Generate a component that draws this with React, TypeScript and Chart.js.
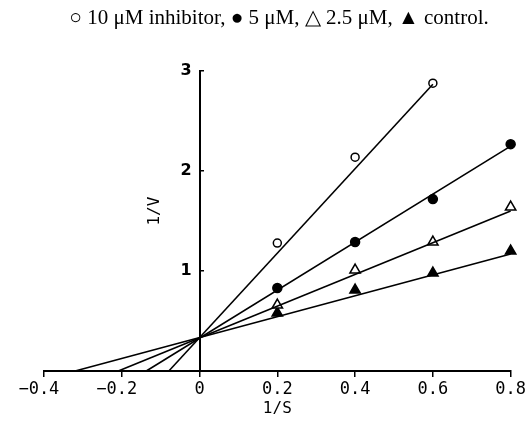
import React, { useEffect, useRef } from 'react';
import { Chart, registerables } from 'chart.js';

Chart.register(...registerables);

// 1/S values at which each series was measured
const invS = [0.2, 0.4, 0.6, 0.8];

// 1/V measurements
const seriesLabels = ['10 μM inhibitor', '5 μM', '2.5 μM', 'control'];
const inh10 = [1.28, 2.14, 2.88];
const inh5 = [0.83, 1.29, 1.72, 2.27];
const inh25 = [0.66, 1.01, 1.29, 1.64];
const control = [0.58, 0.81, 0.98, 1.2];

// fitted lines: x-intercept (at 1/V = 0) and end point
const fitStartX = [-0.079, -0.137, -0.209, -0.32];
const fitEndX = [0.6, 0.8, 0.8, 0.8];
const fitEndY = [2.87, 2.25, 1.6, 1.17];

// axis ticks
const xTicks = [-0.4, -0.2, 0, 0.2, 0.4, 0.6, 0.8];
const yTicks = [0, 1, 2, 3];

const titleText = '○ 10 μM inhibitor, ● 5 μM, △ 2.5 μM, ▲ control.';

const MONO = '"DejaVu Sans Mono", monospace';

const yTitlePlugin = {
  id: 'yTitle',
  afterDraw(chart: any) {
    const { ctx, scales } = chart;
    const x = scales.x.getPixelForValue(-0.115);
    const y = scales.y.getPixelForValue(1.6);
    ctx.save();
    ctx.translate(x, y);
    ctx.rotate(-Math.PI / 2);
    ctx.font = '16px ' + MONO;
    ctx.fillStyle = '#000';
    ctx.textAlign = 'center';
    ctx.textBaseline = 'middle';
    ctx.fillText('1/V', 0, 0);
    ctx.restore();
  },
};

export default function App() {
  const ref = useRef<HTMLCanvasElement>(null);

  useEffect(() => {
    document.body.style.margin = '0';
    const pointSets = [inh10, inh5, inh25, control];
    const styles = [
      { pointStyle: 'circle', radius: 4, bg: '#fff' },
      { pointStyle: 'circle', radius: 4.5, bg: '#000' },
      { pointStyle: 'triangle', radius: 6, bg: '#fff' },
      { pointStyle: 'triangle', radius: 6, bg: '#000' },
    ];
    const lineSets = fitStartX.map((sx, i) => ({
      label: seriesLabels[i] + ' fit',
      data: [
        { x: sx, y: 0 },
        { x: fitEndX[i], y: fitEndY[i] },
      ],
      showLine: true,
      borderColor: '#000',
      borderWidth: 1.6,
      pointRadius: 0,
      fill: false,
      clip: false,
    }));
    const markerSets = pointSets.map((vals, i) => ({
      label: seriesLabels[i],
      data: vals.map((v, j) => ({ x: invS[j], y: v })),
      showLine: false,
      pointStyle: styles[i].pointStyle,
      pointRadius: styles[i].radius,
      pointBackgroundColor: styles[i].bg,
      pointBorderColor: '#000',
      pointBorderWidth: 1.5,
      clip: false,
    }));

    const chart = new Chart(ref.current!, {
      type: 'scatter',
      data: { datasets: [...lineSets, ...markerSets] as any },
      plugins: [yTitlePlugin],
      options: {
        animation: false,
        responsive: false,
        devicePixelRatio: 1,
        layout: { padding: { left: 44, right: 15, top: 0, bottom: 60 } },
        plugins: {
          legend: { display: false },
          tooltip: { enabled: false },
          title: {
            display: true,
            text: titleText,
            color: '#000',
            font: { family: '"Liberation Serif", serif', size: 21, weight: 'normal' },
            padding: { top: 6, bottom: 40 },
          },
        },
        scales: {
          x: {
            type: 'linear',
            position: { y: 0 } as any,
            min: -0.4,
            max: 0.8,
            afterBuildTicks: (s: any) => {
              s.ticks = xTicks.map((v) => ({ value: v }));
            },
            ticks: {
              color: '#000',
              font: { family: MONO, size: 17 },
              padding: 3,
              callback: (v: any) => {
                const n = Number(v);
                if (Math.abs(n) < 1e-9) return '0';
                return n < 0 ? '−' + Math.abs(n).toFixed(1) + '\u2007' : n.toFixed(1);
              },
            },
            grid: { drawOnChartArea: false, drawTicks: true, tickLength: 5, color: '#000', lineWidth: 1.5 },
            border: { display: true, color: '#000', width: 2 },
            title: {
              display: true,
              text: '1/S',
              color: '#000',
              font: { family: MONO, size: 16 },
              padding: { top: -3, bottom: 0 },
            },
          },
          y: {
            type: 'linear',
            position: { x: 0 } as any,
            min: 0,
            max: 3,
            afterBuildTicks: (s: any) => {
              s.ticks = yTicks.map((v) => ({ value: v }));
            },
            ticks: {
              color: '#000',
              font: { family: '"DejaVu Sans", sans-serif', size: 16, weight: 'bold' },
              padding: 8,
              callback: (v: any) => (Number(v) === 0 ? '' : String(v) + '\u2002'),
            },
            grid: { drawOnChartArea: false, drawTicks: true, tickLength: -5, color: '#000', lineWidth: 1.5 },
            border: { display: true, color: '#000', width: 2 },
          },
        },
      },
    });
    return () => chart.destroy();
  }, []);

  return (
    <canvas
      ref={ref}
      width={529}
      height={431}
      style={{ position: 'absolute', left: 0, top: 0, width: 529, height: 431 }}
    />
  );
}
